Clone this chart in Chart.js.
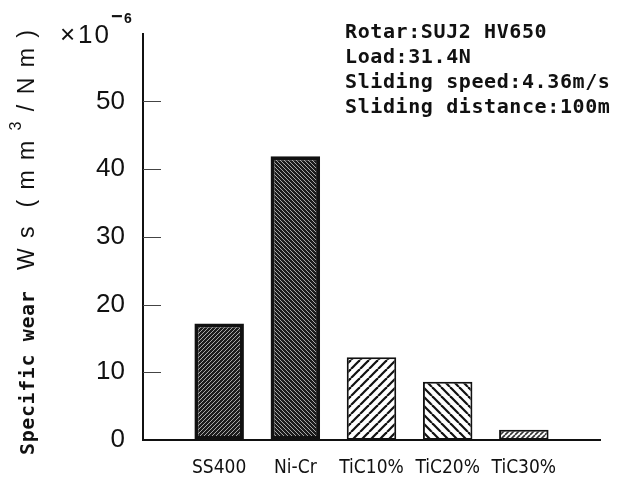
<!DOCTYPE html>
<html>
<head>
<meta charset="utf-8">
<script src="https://cdn.jsdelivr.net/npm/chart.js@4"></script>
<style>
  html, body { margin: 0; padding: 0; background: #fff; }
  #wear-chart { display: block; }
</style>
</head>
<body>
<canvas id="wear-chart" width="641" height="479"></canvas>
<script>
// values (x10^-6 mm3/Nm)
var categories = ["SS400", "Ni-Cr", "TiC10%", "TiC20%", "TiC30%"];
var wear = [17.2, 41.9, 12.2, 8.6, 1.5];
var yTicks = [0, 10, 20, 30, 40, 50];
var notes = ["Rotar:SUJ2 HV650", "Load:31.4N", "Sliding speed:4.36m/s", "Sliding distance:100m"];


function makeHatch(bg, fg, size, lw, dir) {
    let c = document.createElement("canvas");
    c.width = size;
    c.height = size;
    let g = c.getContext("2d");
    g.fillStyle = bg;
    g.fillRect(0, 0, size, size);
    g.strokeStyle = fg;
    g.lineWidth = lw;
    for (let k = -1; k <= 1; k++) {
        g.beginPath();
        if (dir == "/") {
            g.moveTo(k * size, size);
            g.lineTo(k * size + size, 0);
        } else {
            g.moveTo(k * size, 0);
            g.lineTo(k * size + size, size);
        }
        g.stroke();
    }
    return g.createPattern(c, "repeat");
}

let fills = [
    makeHatch("#1c1c1c", "#a8a8a8", 4, 1, "/"),
    makeHatch("#1c1c1c", "#a8a8a8", 4, 1, "\\"),
    makeHatch("#ffffff", "#111111", 9, 2.2, "/"),
    makeHatch("#ffffff", "#111111", 9, 2.2, "\\"),
    makeHatch("#ffffff", "#333333", 5, 1.6, "/")
];

// one empty slot on each side so the bars sit where the figure has them
let labels = [""].concat(categories, [""]);
let values = [null].concat(wear, [null]);

let annotate = {
    id: "annotate",
    afterDraw(chart) {
        let ctx = chart.ctx;
        let y = chart.scales.y;

        // inward tick marks
        ctx.save();
        ctx.strokeStyle = "#444";
        ctx.lineWidth = 1;
        yTicks.forEach(function (v) {
            if (v == 0) return;
            let py = Math.round(y.getPixelForValue(v)) + 0.5;
            ctx.beginPath();
            ctx.moveTo(y.right, py);
            ctx.lineTo(y.right + 18, py);
            ctx.stroke();
        });
        ctx.restore();

        // x10^-6
        ctx.save();
        ctx.fillStyle = "#111";
        ctx.textBaseline = "alphabetic";
        ctx.font = "26px 'Liberation Sans', Arial, sans-serif";
        ctx.fillText("\u00d7", 60, 43);
        ctx.letterSpacing = "2px";
        ctx.fillText("10", 78, 43);
        ctx.letterSpacing = "0px";
        ctx.font = "bold 20px 'Liberation Sans', Arial, sans-serif";
        ctx.fillText("\u2212", 111, 23);
        ctx.font = "bold 14px 'Liberation Sans', Arial, sans-serif";
        ctx.fillText("6", 124, 23);
        ctx.restore();

        // conditions
        ctx.save();
        ctx.fillStyle = "#111";
        ctx.font = "bold 20px 'DejaVu Sans Mono', monospace";
        ctx.letterSpacing = "0.6px";
        notes.forEach(function (t, i) {
            ctx.fillText(t, 345, 38 + i * 25);
        });
        ctx.restore();

        // axis title
        ctx.save();
        ctx.fillStyle = "#111";
        ctx.translate(34, 455);
        ctx.rotate(-Math.PI / 2);
        ctx.font = "bold 20px 'DejaVu Sans Mono', monospace";
        ctx.letterSpacing = "0.6px";
        ctx.fillText("Specific wear", 0, 0);
        ctx.font = "23px 'Liberation Sans', Arial, sans-serif";
        ctx.letterSpacing = "2px";
        let pos = 185;
        let a = "W s  ( m m ";
        ctx.fillText(a, pos, 0);
        pos += ctx.measureText(a).width;
        ctx.font = "16px 'Liberation Sans', Arial, sans-serif";
        ctx.fillText("3", pos, -13);
        pos += ctx.measureText("3 ").width + 2;
        ctx.font = "23px 'Liberation Sans', Arial, sans-serif";
        ctx.fillText("/ N m )", pos, 0);
        ctx.restore();
    }
};

let ctx = document.getElementById("wear-chart").getContext("2d");
new Chart(ctx, {
    type: "bar",
    data: {
        labels: labels,
        datasets: [{
            data: values,
            backgroundColor: [null].concat(fills, [null]),
            borderColor: "#111",
            borderWidth: [0, 4, 4, 2, 2, 2, 0],
            borderSkipped: false,
            barPercentage: 0.65,
            categoryPercentage: 1
        }]
    },
    options: {
        responsive: false,
        animation: false,
        layout: {
            padding: { top: 32, right: 41, left: 0, bottom: 0 }
        },
        plugins: {
            legend: { display: false },
            tooltip: { enabled: false }
        },
        scales: {
            x: {
                offset: false,
                grid: { display: false },
                border: { display: true, color: "#111", width: 2 },
                ticks: {
                    padding: 9,
                    color: "#111",
                    maxRotation: 0,
                    autoSkip: false,
                    font: { family: "'DejaVu Sans Condensed', 'Liberation Sans Narrow', sans-serif", size: 19 }
                },
                afterFit: function (s) { s.height = 39; }
            },
            y: {
                min: 0,
                max: 60,
                grid: { display: false, drawTicks: false },
                border: { display: true, color: "#111", width: 2 },
                ticks: {
                    stepSize: 10,
                    padding: 18,
                    color: "#111",
                    font: { family: "'Liberation Sans', Arial, sans-serif", size: 26 },
                    callback: function (v) { return yTicks.includes(v) ? v : ""; }
                },
                afterFit: function (s) { s.width = 143; }
            }
        }
    },
    plugins: [annotate]
});
</script>
</body>
</html>
